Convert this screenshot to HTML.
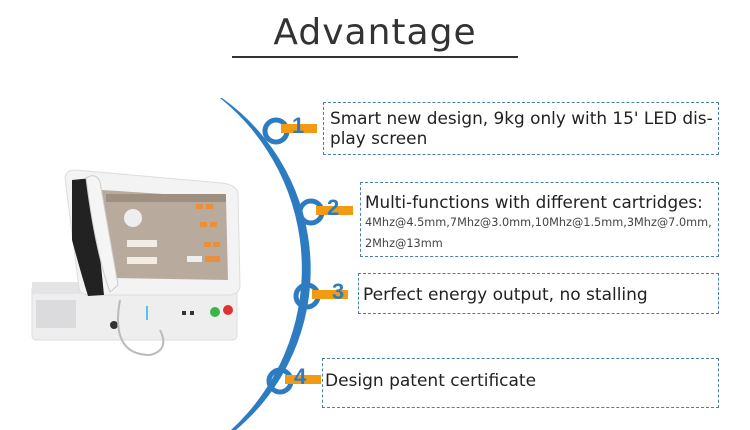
<!DOCTYPE html>
<html><head><style>
body{margin:0;width:750px;height:430px;background:#fff;overflow:hidden;position:relative;font-family:"Liberation Sans","DejaVu Sans",sans-serif;}
.t{position:absolute;left:0;width:750px;top:12px;text-align:center;font-size:36px;color:#333;letter-spacing:1px;font-family:"DejaVu Sans","Liberation Sans",sans-serif;}
.ul{position:absolute;left:232px;top:56px;width:286px;height:2px;background:#333;}
.b{position:absolute;border:1px dashed #4a7fb0;box-sizing:border-box;color:#222;font-family:"DejaVu Sans","Liberation Sans",sans-serif;white-space:nowrap;}
</style></head><body>
<div class="t">Advantage</div><div class="ul"></div>
<svg width="750" height="430" style="position:absolute;left:0;top:0">
<!-- device -->
<rect x="32" y="285" width="205" height="55" rx="4" fill="#eeeeef" stroke="#ddd"/>
<rect x="32" y="282" width="205" height="12" fill="#e4e4e6"/>
<rect x="36" y="300" width="40" height="28" fill="#cfcfd2" opacity=".6"/>
<rect x="146" y="306" width="2" height="14" fill="#5bc0e6"/>
<rect x="182" y="311" width="4" height="4" fill="#333"/><rect x="190" y="311" width="4" height="4" fill="#333"/>
<circle cx="215" cy="312" r="5" fill="#3bb54a"/><circle cx="228" cy="310" r="5" fill="#d33"/>
<circle cx="114" cy="325" r="4" fill="#333"/>
<path d="M120 300 Q110 355 150 355 Q170 350 160 330" fill="none" stroke="#bbb" stroke-width="2"/>
<path d="M65 178 Q66 170 75 170 L222 183 Q238 185 238 195 L240 285 Q240 295 228 295 L90 295 Q80 295 79 288 Z" fill="#f3f3f4" stroke="#ddd"/>
<path d="M102 190 L226 198 L228 280 L110 278 Z" fill="#b8ab9e"/>
<rect x="106" y="194" width="120" height="8" fill="#9e8f80"/>
<circle cx="133" cy="218" r="9" fill="#eee"/>
<rect x="127" y="240" width="30" height="7" fill="#f2ece4"/><rect x="127" y="257" width="30" height="7" fill="#f2ece4"/>
<rect x="196" y="204" width="7" height="5" fill="#e8913a"/><rect x="206" y="204" width="7" height="5" fill="#e8913a"/>
<rect x="200" y="222" width="7" height="5" fill="#e8913a"/><rect x="210" y="222" width="7" height="5" fill="#e8913a"/>
<rect x="204" y="242" width="7" height="5" fill="#e8913a"/><rect x="213" y="242" width="7" height="5" fill="#e8913a"/>
<rect x="187" y="256" width="15" height="6" fill="#eee"/><rect x="205" y="256" width="15" height="6" fill="#e8913a"/>
<path d="M72 180 L92 178 L104 295 L88 296 Q80 270 72 240 Z" fill="#222"/>
<path d="M86 178 Q96 172 100 182 L118 285 L110 292 Q95 250 86 178 Z" fill="#f5f5f5" stroke="#ccc"/>
<!-- arc crescent -->
<path d="M222 98 A210 210 0 0 1 236 430 L231 430 A219 219 0 0 0 220 98 Z" fill="#2d7cc1"/>
<g font-family="Liberation Sans,sans-serif" font-weight="bold" font-size="22" fill="#2d7cc1">
<circle cx="276" cy="131" r="11" fill="none" stroke="#2d7cc1" stroke-width="5"/>
<rect x="281" y="124" width="36" height="9" fill="#f29b12"/><text x="292" y="133">1</text>
<circle cx="311" cy="212" r="11" fill="none" stroke="#2d7cc1" stroke-width="5"/>
<rect x="316" y="206" width="37" height="9" fill="#f29b12"/><text x="327" y="215">2</text>
<circle cx="307" cy="296" r="11" fill="none" stroke="#2d7cc1" stroke-width="5"/>
<rect x="312" y="290" width="36" height="9" fill="#f29b12"/><text x="332" y="299">3</text>
<circle cx="280" cy="381" r="11" fill="none" stroke="#2d7cc1" stroke-width="5"/>
<rect x="285" y="375" width="36" height="9" fill="#f29b12"/><text x="294" y="384">4</text>
</g>
</svg>
<div class="b" style="left:323px;top:102px;width:396px;height:53px;padding:5px 0 0 6px;font-size:16.9px;line-height:20px;">Smart new design, 9kg only with 15' LED dis-<br>play screen</div>
<div class="b" style="left:360px;top:182px;width:359px;height:75px;padding:9px 0 0 4px;font-size:16.8px;line-height:20px;">Multi-functions with different cartridges:<div style="font-size:11.3px;line-height:21px;color:#444">4Mhz@4.5mm,7Mhz@3.0mm,10Mhz@1.5mm,3Mhz@7.0mm,<br>2Mhz@13mm</div></div>
<div class="b" style="left:358px;top:273px;width:361px;height:41px;padding:11px 0 0 4px;font-size:17px;line-height:20px;">Perfect energy output, no stalling</div>
<div class="b" style="left:322px;top:358px;width:397px;height:50px;padding:12px 0 0 2px;font-size:17px;line-height:20px;">Design patent certificate</div>
</body></html>
